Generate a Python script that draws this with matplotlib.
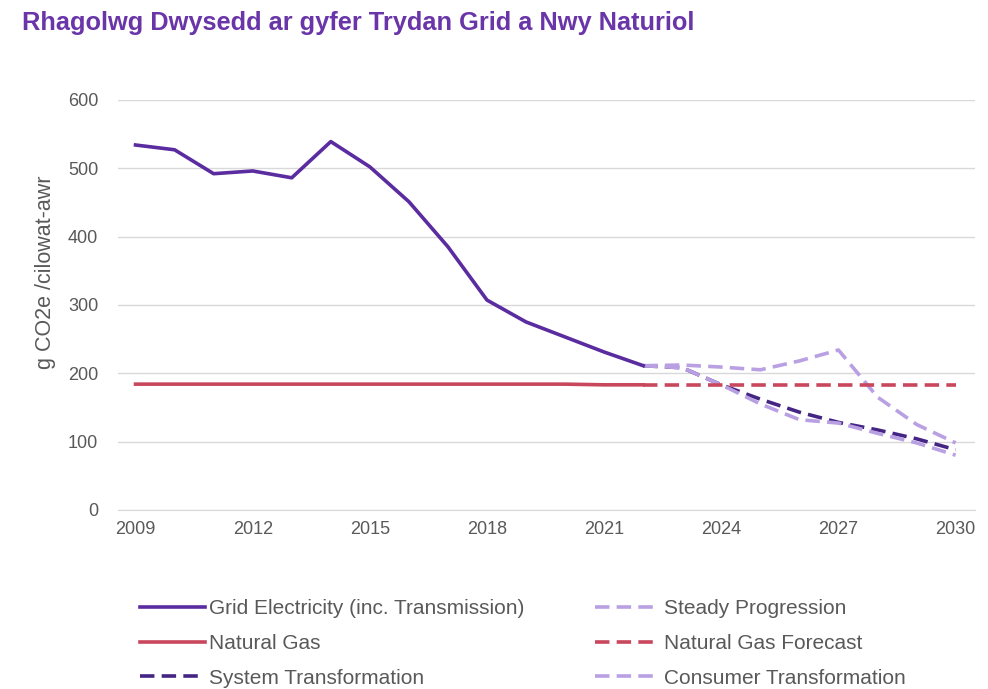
import matplotlib.pyplot as plt

# Emission intensity, g CO2e per kWh
years_hist = [2009, 2010, 2011, 2012, 2013, 2014, 2015, 2016, 2017, 2018, 2019, 2020, 2021, 2022]
grid_elec = [534, 527, 492, 496, 486, 539, 502, 451, 385, 307, 275, 253, 231, 211]
nat_gas = [184, 184, 184, 184, 184, 184, 184, 184, 184, 184, 184, 184, 183, 183]

years_fc = [2022, 2023, 2024, 2025, 2026, 2027, 2028, 2029, 2030]
nat_gas_fc = [183, 183, 183, 183, 183, 183, 183, 183, 183]
steady = [211, 212, 209, 205, 218, 234, 165, 125, 98]
system_tf = [211, 208, 183, 162, 143, 128, 117, 104, 88]
consumer_tf = [211, 208, 183, 155, 132, 127, 112, 98, 80]

xticks = [2009, 2012, 2015, 2018, 2021, 2024, 2027, 2030]

purple = '#5a2ca0'
dark_purple = '#452584'
light_purple = '#b9a0e3'
red = '#c9475c'
grey_text = '#595959'

plt.rcParams['font.family'] = 'Liberation Sans'

fig = plt.figure(figsize=(9.88, 6.89), dpi=100)
ax = fig.add_axes([0.119, 0.26, 0.868, 0.595])

lw = 2.6
dash = (4, 2)
ax.plot(years_hist, grid_elec, color=purple, lw=lw, label='Grid Electricity (inc. Transmission)', zorder=5)
ax.plot(years_hist, nat_gas, color=red, lw=lw, label='Natural Gas', zorder=4)
ax.plot(years_fc, nat_gas_fc, color=red, lw=lw, dashes=dash, label='Natural Gas Forecast', zorder=4)
ax.plot(years_fc, system_tf, color=dark_purple, lw=lw, dashes=dash, label='System Transformation', zorder=3)
ax.plot(years_fc, steady, color=light_purple, lw=lw, dashes=dash, label='Steady Progression', zorder=3.5)
ax.plot(years_fc, consumer_tf, color=light_purple, lw=lw, dashes=dash, label='Consumer Transformation', zorder=3.5)

ax.set_xlim(2008.54, 2030.5)
ax.set_ylim(0, 600)
ax.set_yticks(range(0, 601, 100))
ax.set_xticks(xticks)
ax.grid(axis='y', color='#d9d9d9', lw=1)
ax.set_axisbelow(True)
for s in ['top', 'right', 'left']:
    ax.spines[s].set_visible(False)
ax.spines['bottom'].set_color('#d9d9d9')
ax.tick_params(axis='x', length=0, labelsize=13, colors=grey_text, pad=8)
ax.tick_params(axis='y', length=0, labelsize=13, colors=grey_text, pad=14)
ax.set_ylabel('g CO2e /cilowat-awr', fontsize=15.5, color=grey_text)
ax.yaxis.set_label_coords(-0.072, 0.58)

fig.text(0.022, 0.966, 'Rhagolwg Dwysedd ar gyfer Trydan Grid a Nwy Naturiol',
         fontsize=18.3, fontweight='bold', color='#6a35a8', va='center', ha='left')

handles, labels = ax.get_legend_handles_labels()
order = ['Grid Electricity (inc. Transmission)', 'Natural Gas', 'System Transformation',
         'Steady Progression', 'Natural Gas Forecast', 'Consumer Transformation']
hmap = dict(zip(labels, handles))
leg = fig.legend([hmap[k] for k in order], order, ncol=2, loc='upper left',
                 bbox_to_anchor=(0.142, 0.13), bbox_transform=fig.transFigure,
                 frameon=False, fontsize=15, handlelength=3.1, handletextpad=0.2,
                 columnspacing=3.4, labelspacing=0.75, borderaxespad=0, borderpad=0)
for t in leg.get_texts():
    t.set_color(grey_text)

fig.savefig('out.png', dpi=100, facecolor='white')
